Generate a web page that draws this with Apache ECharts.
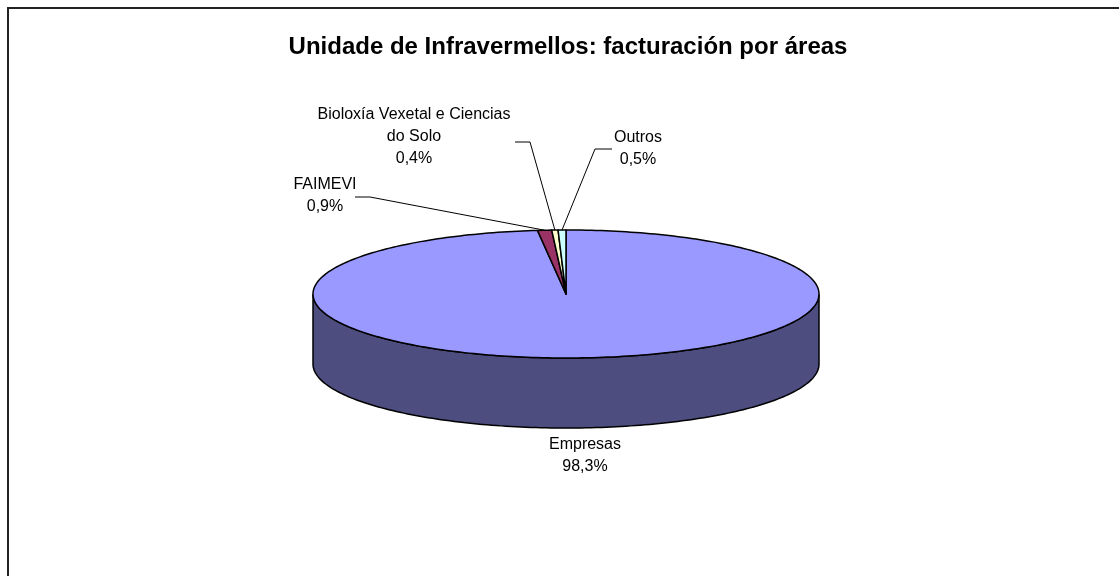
<!DOCTYPE html>
<html>
<head>
<meta charset="utf-8">
<script src="https://cdn.jsdelivr.net/npm/echarts@6/dist/echarts.min.js"></script>
<style>
html, body { margin: 0; padding: 0; background: #fff; }
#main { width: 1119px; height: 576px; }
</style>
</head>
<body>
<div id="main"></div>
<script>
// datos: facturación por áreas (%)
var areas = ['Empresas', 'FAIMEVI', 'Bioloxía Vexetal e Ciencias\ndo Solo', 'Outros'];
var shares = [98.3, 0.9, 0.4, 0.5];

var topColors = ['#9999ff', '#993366', '#ffffcc', '#ccffff'];
var sideColors = ['#4d4d80', '#4d1a33', '#808066', '#668080'];

// xeometría da torta 3D
var pie = { cx: 566, cy: 294, rx: 253, ry: 64, depth: 70 };
// posición das etiquetas (centro da 1a liña) e cóbado da liña guía
var labelLayout = [
	{ x: 585, y: 445, start: null, elbow: null },
	{ x: 325, y: 185, start: [355, 197], elbow: [370, 197] },
	{ x: 414, y: 115, start: [515, 142], elbow: [530, 142] },
	{ x: 638, y: 138, start: [612, 149], elbow: [595, 149] }
];
var font = '"Liberation Sans", Arial, sans-serif';

var total = shares.reduce(function (a, b) { return a + b; }, 0);

function pt(theta, off) {
	return [pie.cx + pie.rx * Math.sin(theta), pie.cy - pie.ry * Math.cos(theta) + (off || 0)];
}
function arc(a, b, off) {
	var pts = [], n = Math.max(2, Math.ceil((b - a) / 0.02));
	for (var i = 0; i <= n; i++) {
		pts.push(pt(a + (b - a) * i / n, off));
	}
	return pts;
}
function angles(idx) {
	var before = 0;
	for (var i = 0; i < idx; i++) before += shares[i];
	return [before / total * Math.PI * 2, (before + shares[idx]) / total * Math.PI * 2];
}

function renderSlice(params, api) {
	var idx = params.dataIndex;
	var ang = angles(idx);
	var children = [];
	// lateral visible (metade dianteira)
	var lo = Math.max(ang[0], Math.PI / 2), hi = Math.min(ang[1], Math.PI * 1.5);
	if (hi > lo) {
		var side = arc(lo, hi, 0).concat(arc(lo, hi, pie.depth).reverse());
		children.push({
			type: 'polygon', z2: 1,
			shape: { points: side },
			style: { fill: sideColors[idx], stroke: '#000', lineWidth: 1.5 }
		});
	}
	// cara superior
	children.push({
		type: 'polygon', z2: 10,
		shape: { points: [[pie.cx, pie.cy]].concat(arc(ang[0], ang[1], 0)) },
		style: { fill: topColors[idx], stroke: '#000', lineWidth: 1.5, lineJoin: 'round' }
	});
	// etiqueta
	var lab = labelLayout[idx];
	var txt = areas[idx] + '\n' + shares[idx].toFixed(1).replace('.', ',') + '%';
	children.push({
		type: 'text', z2: 20,
		style: {
			x: lab.x, y: lab.y - 11, text: txt,
			fill: '#000', font: '16px ' + font,
			align: 'center', verticalAlign: 'top', lineHeight: 22
		}
	});
	if (lab.start) {
		var mid = pt((ang[0] + ang[1]) / 2, 0);
		children.push({
			type: 'polyline', z2: 20,
			shape: { points: [lab.start, lab.elbow, mid] },
			style: { stroke: '#000', lineWidth: 1, fill: null }
		});
	}
	return { type: 'group', children: children };
}

var chart = echarts.init(document.getElementById('main'));
chart.setOption({
	backgroundColor: '#fff',
	animation: false,
	graphic: [{
		type: 'rect',
		shape: { x: 8, y: 8, width: 1300, height: 800 },
		style: { fill: null, stroke: '#222', lineWidth: 2 },
		silent: true
	}, {
		type: 'text',
		style: {
			x: 568, y: 47,
			text: 'Unidade de Infravermellos: facturación por áreas',
			font: 'bold 24px ' + font, fill: '#000',
			align: 'center', verticalAlign: 'middle'
		},
		silent: true
	}],
	series: [{
		type: 'custom',
		coordinateSystem: 'none',
		renderItem: renderSlice,
		data: shares.map(function (v, i) { return { name: areas[i], value: v }; })
	}]
});
</script>
</body>
</html>
